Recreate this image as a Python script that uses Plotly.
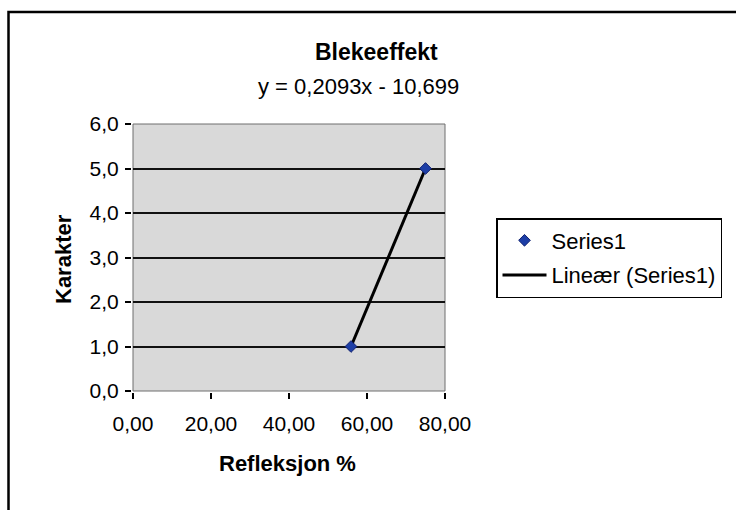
import numpy as np
import plotly.graph_objects as go

# Data
refleksjon = [55.9, 75.0]      # x: Refleksjon %
karakter = [1.0, 5.0]          # y: Karakter
series_name = "Series1"
trend_name = "Lineær (Series1)"
chart_title = "Blekeeffekt"
equation_text = "y = 0,2093x - 10,699"
x_title = "Refleksjon %"
y_title = "Karakter"
x_ticks = [0, 20, 40, 60, 80]
y_ticks = [0, 1, 2, 3, 4, 5, 6]

# Linear trendline fitted from the data (Excel-style, over the data range)
coef = np.polyfit(refleksjon, karakter, 1)
trend_x = [min(refleksjon), max(refleksjon)]
trend_y = list(np.polyval(coef, trend_x))

FONT = "Liberation Sans, Arial, sans-serif"

# plot area pixel box
L, R, T, B = 133, 445, 124, 391
W, H = 736, 510
pw, ph = R - L, B - T

def px(x):
    return (x - L) / pw

def py(y):
    return (B - y) / ph

fig = go.Figure()
fig.add_trace(go.Scatter(
    x=refleksjon, y=karakter, mode="markers", name=series_name,
    marker=dict(symbol="diamond", size=9, color="#1d3ea6",
                line=dict(color="#0f2070", width=1)),
    legendgroup="a", zorder=2,
))
fig.add_trace(go.Scatter(
    x=trend_x, y=trend_y, mode="lines", name=trend_name,
    line=dict(color="black", width=3),
    legendgroup="b", zorder=1,
))

fig.update_layout(
    width=W, height=H,
    margin=dict(l=L, r=W - R, t=T, b=H - B),
    paper_bgcolor="white",
    plot_bgcolor="#d9d9d9",
    separators=",.",
    font=dict(family=FONT, size=21, color="black"),
    showlegend=True,
    legend=dict(
        x=px(496), y=py(218), xanchor="left", yanchor="top",
        bgcolor="white", bordercolor="black", borderwidth=1.5,
        font=dict(family=FONT, size=22, color="black"),
        traceorder="grouped", tracegroupgap=3, itemwidth=44,
    ),
    xaxis=dict(
        range=[0, 80], tickvals=x_ticks, tickformat=".2f",
        showgrid=False, zeroline=False,
        showline=True, linecolor="black", linewidth=2,
        ticks="outside", ticklen=6, tickwidth=1.5, tickcolor="black",
        tickfont=dict(family=FONT, size=21),
        ticklabelstandoff=7,
    ),
    yaxis=dict(
        range=[0, 6], tickvals=y_ticks, tickformat=".1f",
        showgrid=True, gridcolor="#111111", gridwidth=2, zeroline=False,
        showline=True, linecolor="black", linewidth=2,
        ticks="outside", ticklen=6, tickwidth=1.5, tickcolor="black",
        tickfont=dict(family=FONT, size=21),
        ticklabelstandoff=2,
    ),
    shapes=[
        # plot area border (top/right)
        dict(type="rect", xref="paper", yref="paper", x0=0, x1=1, y0=0, y1=1,
             line=dict(color="#6e6e6e", width=1), layer="below"),
        # outer chart frame (extends past the right and bottom edges)
        dict(type="rect", xref="paper", yref="paper",
             x0=px(8.5), x1=px(780), y0=py(560), y1=py(12),
             line=dict(color="black", width=2.5)),
    ],
    annotations=[
        dict(text="<b>" + chart_title + "</b>", xref="paper", yref="paper",
             x=px(376), y=py(52), showarrow=False, xanchor="center", yanchor="middle",
             font=dict(family=FONT, size=23)),
        dict(text=equation_text, xref="paper", yref="paper",
             x=px(358), y=py(86), showarrow=False, xanchor="center", yanchor="middle",
             font=dict(family=FONT, size=22)),
        dict(text="<b>" + y_title + "</b>", xref="paper", yref="paper",
             x=px(63), y=py(259), showarrow=False, textangle=-90,
             xanchor="center", yanchor="middle",
             font=dict(family=FONT, size=22)),
        dict(text="<b>" + x_title + "</b>", xref="paper", yref="paper",
             x=px(287), y=py(463), showarrow=False, xanchor="center", yanchor="middle",
             font=dict(family=FONT, size=22)),
    ],
)

fig.write_html(
    "out.html",
    config={"displayModeBar": False},
    post_script="document.documentElement.style.margin='0';"
                "document.body.style.margin='0';"
                "document.body.style.overflow='hidden';",
)
